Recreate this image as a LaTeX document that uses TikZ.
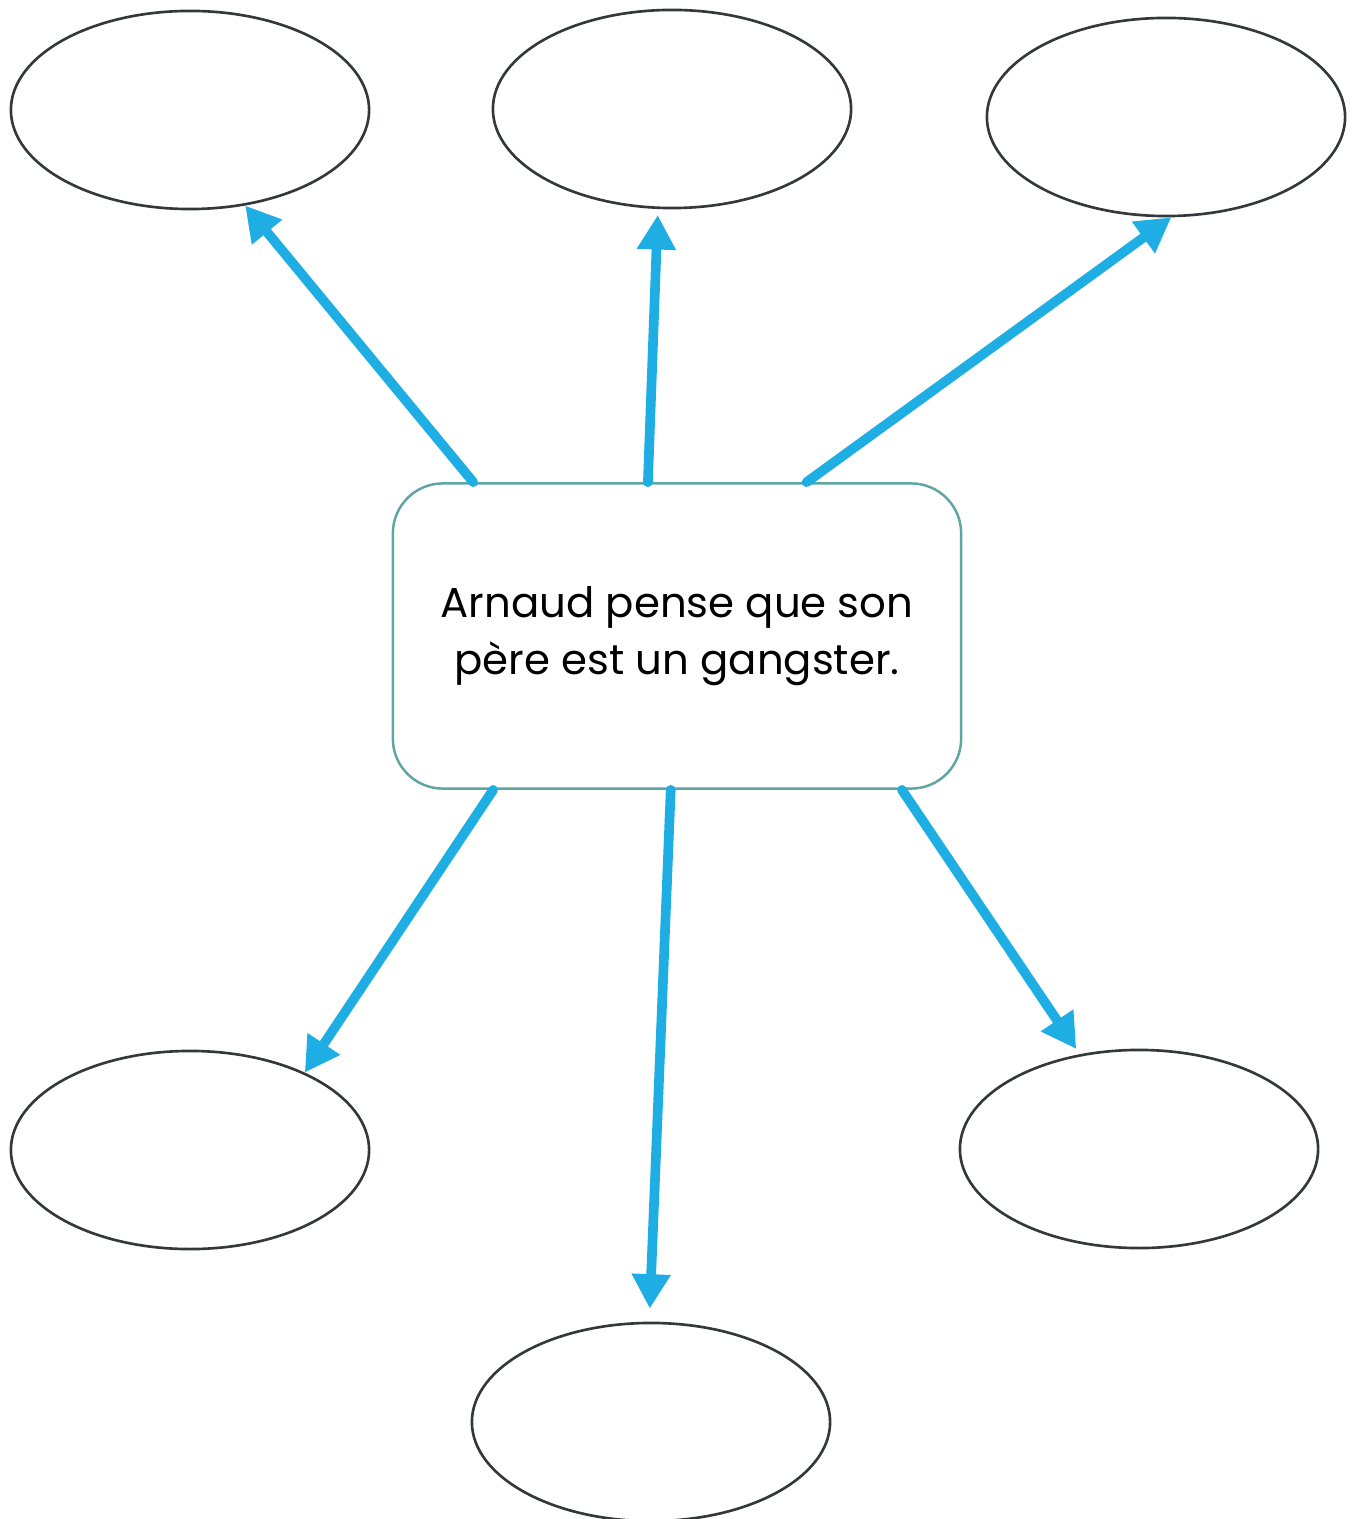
\documentclass[tikz,border=0pt]{standalone}
\usepackage{fontspec}
\setmainfont{Poppins}
\usetikzlibrary{positioning, calc, arrows.meta, shapes.geometric}
\definecolor{arrowblue}{HTML}{1EAEE4}
\definecolor{boxteal}{HTML}{5FA5A2}
\definecolor{rimgray}{HTML}{35383B}

\begin{document}
\begin{tikzpicture}[x=0.01cm, y=-0.01cm,
    bubble/.style={ellipse, draw=rimgray, line width=0.75pt, minimum width=3.58cm, minimum height=1.98cm, inner sep=0pt},
    idea/.style={draw=boxteal, line width=0.7pt, rounded corners=0.5cm, minimum width=5.68cm, minimum height=3.05cm, align=center, font=\fontsize{11.9}{16.3}\selectfont},
    link/.style={draw=arrowblue, line width=2.75pt, line cap=round, -{Triangle[length=9.8pt, width=10.5pt]}}]
			\useasboundingbox (0,0) rectangle (1355,1519);
			\node[idea] (main) at (677,636) {Arnaud pense que son\\père est un gangster.};
			
			\node[bubble] (tl) at (190,110) {};
			\node[bubble] (tm) at (672,109) {};
			\node[bubble] (tr) at (1166,117) {};
			\node[bubble] (bl) at (190,1150) {};
			\node[bubble] (bm) at (651,1422) {};
			\node[bubble] (br) at (1139,1149) {};
			
			\coordinate (n1) at ($(main.north west)!0.143!(main.north east)$);
			\coordinate (n2) at ($(main.north west)!0.449!(main.north east)$);
			\coordinate (n3) at ($(main.north west)!0.727!(main.north east)$);
			\coordinate (s1) at ($(main.south west)!0.178!(main.south east)$);
			\coordinate (s2) at ($(main.south west)!0.489!(main.south east)$);
			\coordinate (s3) at ($(main.south west)!0.894!(main.south east)$);
			
			\draw[link] (n1) -- (tl.-60);
			\draw[link, shorten >=1.7pt] (n2) -- (tm.-98);
			\draw[link] (n3) -- (tr.-87);
			\draw[link] (s1) -- (bl.34);
			\draw[link, shorten >=3.7pt] (s2) -- (bm.91.5);
			\draw[link, shorten >=1.8pt] (s3) -- (br.122.5);
		\end{tikzpicture}
\end{document}
